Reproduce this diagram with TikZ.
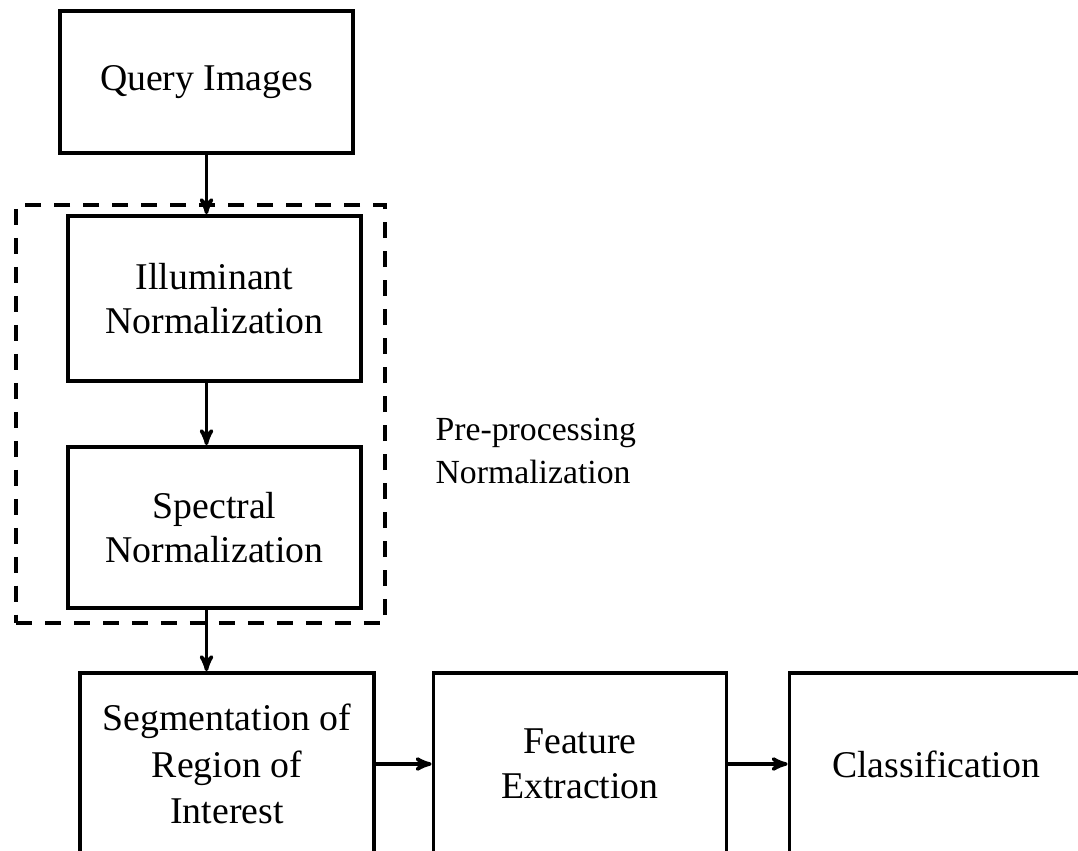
\documentclass[tikz,border=0pt]{standalone}
\usepackage{fontspec}
\setmainfont{Liberation Serif}
\usetikzlibrary{%
  arrows,%
  positioning% wg. " of "
}

\begin{document}
\begin{tikzpicture}[
  x=0.02cm, y=-0.02cm,
  font=\fontsize{21.5}{25.5}\selectfont, >=stealth', line width=2pt,
  stagebox/.style={rectangle, minimum width=5.86cm, draw=black, fill=white, line width=2.2pt, align=center},
  groupbox/.style={rectangle, minimum width=7.38cm, minimum height=8.36cm, draw=black, dashed, dash pattern=on 9pt off 7.5pt, line width=2pt}
]
\useasboundingbox (0,0) rectangle (1078,850);
\clip (0,0) rectangle (1078,850);

\node[groupbox] (prep) at (200.5,414) {};
\node[stagebox, minimum height=2.84cm] (query) at (206.5,82) {Query Images};
\node[stagebox, minimum height=3.3cm] (illum) at (214.5,298.5) {Illuminant\\Normalization};
\node[stagebox, minimum height=3.22cm] (spec) at (214.5,527.5) {Spectral\\Normalization};
\node[anchor=west, align=left, font=\fontsize{19.2}{24.4}\selectfont] (preplabel) at (428,451) {Pre-processing\\Normalization};
\node[stagebox, minimum height=3.64cm, minimum width=5.88cm, font=\fontsize{21.5}{26.4}\selectfont] (seg) at (227,764) {Segmentation of\\Region of\\Interest};
\node[stagebox, minimum height=3.64cm] (feat) at (580,764) {Feature\\Extraction};
\node[stagebox, minimum height=3.64cm] (cls) at (936,764) {Classification};

\draw[->] (query.south) -- (query.south |- illum.north);
\draw[->] (illum.south -| query.south) -- (query.south |- spec.north);
\draw[->] (spec.south -| query.south) -- (query.south |- seg.north);
\draw[->] (seg.east) -- (feat.west);
\draw[->] (feat.east) -- (cls.west);
\end{tikzpicture}
\end{document}
